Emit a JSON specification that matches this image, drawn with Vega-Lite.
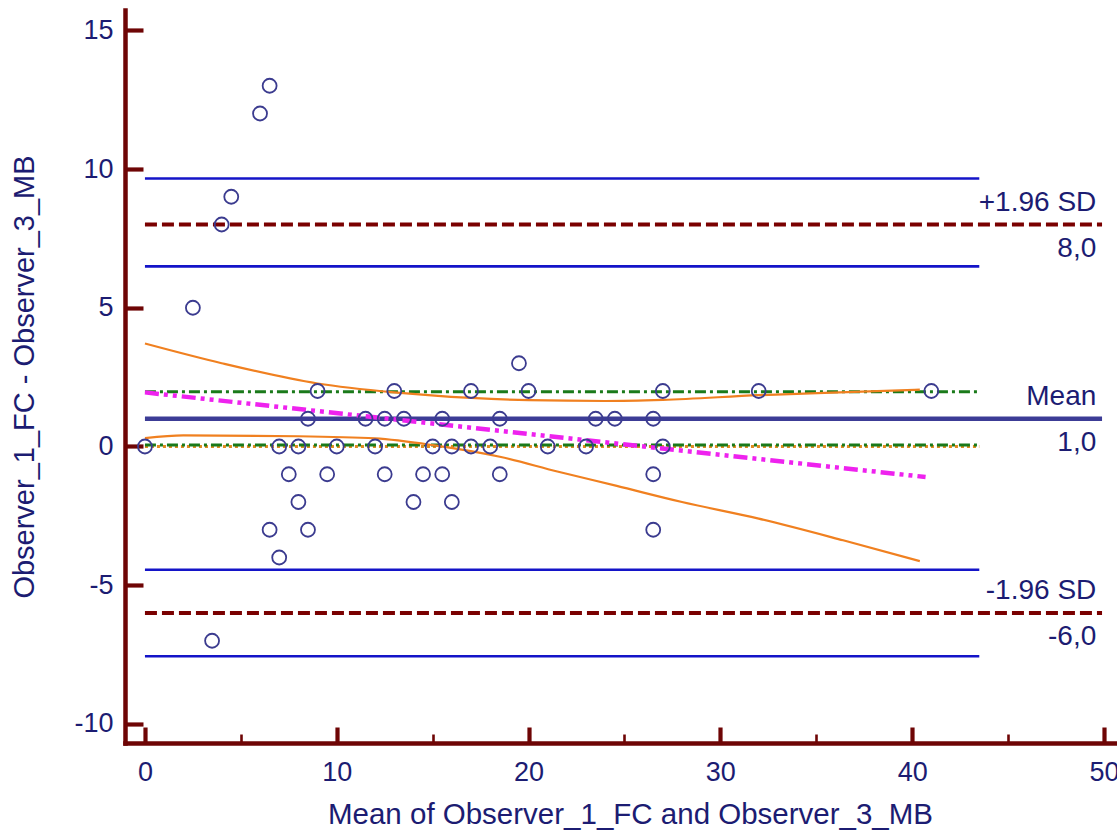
{
  "$schema": "https://vega.github.io/schema/vega-lite/v6.json",
  "width": 992,
  "height": 733,
  "autosize": {"type": "none"},
  "padding": {"left": 125, "top": 10, "right": 0, "bottom": 88},
  "background": "white",
  "config": {
    "view": {"stroke": null},
    "font": "Liberation Sans"
  },
  "datasets": {
    "points": [
      {"mean": 0, "diff": 0}, {"mean": 2.5, "diff": 5}, {"mean": 3.5, "diff": -7},
      {"mean": 4, "diff": 8}, {"mean": 4.5, "diff": 9}, {"mean": 6, "diff": 12},
      {"mean": 6.5, "diff": 13}, {"mean": 6.5, "diff": -3}, {"mean": 7, "diff": 0},
      {"mean": 7, "diff": -4}, {"mean": 7.5, "diff": -1}, {"mean": 8, "diff": 0},
      {"mean": 8, "diff": -2}, {"mean": 8.5, "diff": 1}, {"mean": 8.5, "diff": -3},
      {"mean": 9, "diff": 2}, {"mean": 9.5, "diff": -1}, {"mean": 10, "diff": 0},
      {"mean": 11.5, "diff": 1}, {"mean": 12, "diff": 0}, {"mean": 12.5, "diff": 1},
      {"mean": 12.5, "diff": -1}, {"mean": 13, "diff": 2}, {"mean": 13.5, "diff": 1},
      {"mean": 14, "diff": -2}, {"mean": 14.5, "diff": -1}, {"mean": 15, "diff": 0},
      {"mean": 15.5, "diff": 1}, {"mean": 15.5, "diff": -1}, {"mean": 16, "diff": 0},
      {"mean": 16, "diff": -2}, {"mean": 17, "diff": 2}, {"mean": 17, "diff": 0},
      {"mean": 18, "diff": 0}, {"mean": 18.5, "diff": 1}, {"mean": 18.5, "diff": -1},
      {"mean": 19.5, "diff": 3}, {"mean": 20, "diff": 2}, {"mean": 21, "diff": 0},
      {"mean": 23, "diff": 0}, {"mean": 23.5, "diff": 1}, {"mean": 24.5, "diff": 1},
      {"mean": 26.5, "diff": 1}, {"mean": 26.5, "diff": -1}, {"mean": 26.5, "diff": -3},
      {"mean": 27, "diff": 2}, {"mean": 27, "diff": 0}, {"mean": 32, "diff": 2},
      {"mean": 41, "diff": 2}
    ],
    "hlines": [
      {"kind": "ci_loa", "x1": 0, "x2": 43.5, "y": 9.66},
      {"kind": "ci_loa", "x1": 0, "x2": 43.5, "y": 6.49},
      {"kind": "ci_loa", "x1": 0, "x2": 43.5, "y": -4.44},
      {"kind": "ci_loa", "x1": 0, "x2": 43.5, "y": -7.56},
      {"kind": "loa", "x1": 0, "x2": 49.9, "y": 8.0},
      {"kind": "loa", "x1": 0, "x2": 49.9, "y": -6.0},
      {"kind": "mean", "x1": 0, "x2": 49.9, "y": 1.0},
      {"kind": "ci_mean", "x1": 0, "x2": 43.5, "y": 1.97},
      {"kind": "ci_mean", "x1": 0, "x2": 43.5, "y": 0.05},
      {"kind": "zero", "x1": 0, "x2": 43.5, "y": 0}
    ],
    "regression": [
      {"x": 0, "y": 1.95},
      {"x": 40.7, "y": -1.1}
    ],
    "bands": [
      {"band": "upper", "x": 0, "y": 3.71},
      {"band": "upper", "x": 4, "y": 3.0},
      {"band": "upper", "x": 9, "y": 2.27},
      {"band": "upper", "x": 13, "y": 1.95},
      {"band": "upper", "x": 17, "y": 1.75},
      {"band": "upper", "x": 20, "y": 1.67},
      {"band": "upper", "x": 24, "y": 1.64},
      {"band": "upper", "x": 27, "y": 1.68},
      {"band": "upper", "x": 32, "y": 1.85},
      {"band": "upper", "x": 37, "y": 1.97},
      {"band": "upper", "x": 40.4, "y": 2.05},
      {"band": "lower", "x": 0, "y": 0.3},
      {"band": "lower", "x": 2, "y": 0.4},
      {"band": "lower", "x": 8, "y": 0.37},
      {"band": "lower", "x": 12, "y": 0.29},
      {"band": "lower", "x": 15, "y": 0.05},
      {"band": "lower", "x": 18.5, "y": -0.37},
      {"band": "lower", "x": 21.5, "y": -0.9},
      {"band": "lower", "x": 24.6, "y": -1.42},
      {"band": "lower", "x": 28, "y": -2.0},
      {"band": "lower", "x": 32, "y": -2.6},
      {"band": "lower", "x": 36.4, "y": -3.38},
      {"band": "lower", "x": 40.4, "y": -4.13}
    ],
    "labels": [
      {"text": "+1.96 SD", "y": 8.0, "pos": "above"},
      {"text": "8,0", "y": 8.0, "pos": "below"},
      {"text": "Mean", "y": 1.0, "pos": "above"},
      {"text": "1,0", "y": 1.0, "pos": "below"},
      {"text": "-1.96 SD", "y": -6.0, "pos": "above"},
      {"text": "-6,0", "y": -6.0, "pos": "below"}
    ]
  },
  "layer": [
    {
      "data": {"name": "hlines"},
      "transform": [{"filter": "datum.kind === 'ci_loa'"}],
      "mark": {"type": "rule", "color": "#1414c8", "strokeWidth": 2.6},
      "encoding": {
        "x": {"field": "x1", "type": "quantitative", "scale": {"domain": [-1.04, 50.68], "nice": false, "zero": false},
          "axis": {
            "values": [0, 5, 10, 15, 20, 25, 30, 35, 40, 45, 50],
            "labelExpr": "datum.value % 10 === 0 ? toString(datum.value) : ''",
            "tickSize": {"condition": {"test": "datum.value % 10 === 0", "value": -16}, "value": -9},
            "tickWidth": {"condition": {"test": "datum.value % 10 === 0", "value": 4.2}, "value": 2.6},
            "tickColor": "#6e0505",
            "domainColor": "#6e0505",
            "domainWidth": 4.5,
            "domainCap": "square",
            "grid": false,
            "labelFont": "Liberation Sans",
            "labelFontSize": 27,
            "labelColor": "#1c1c72",
            "labelPadding": 32,
            "labelFlush": false,
            "labelOverlap": false,
            "title": "Mean of Observer_1_FC and Observer_3_MB",
            "titleFont": "Liberation Sans",
            "titleFontSize": 29.5,
            "titleFontWeight": "normal",
            "titleColor": "#1c1c72",
            "titleX": 505,
            "titleY": 80,
            "titleBaseline": "alphabetic",
            "titleAnchor": "middle",
            "titleAlign": "center"
          }},
        "x2": {"field": "x2"},
        "y": {"field": "y", "type": "quantitative", "scale": {"domain": [-10.685, 15.73], "nice": false, "zero": false},
          "axis": {
            "values": [-10, -5, 0, 5, 10, 15],
            "labelExpr": "toString(datum.value)",
            "tickSize": -18,
            "tickWidth": 4.2,
            "tickColor": "#6e0505",
            "domainColor": "#6e0505",
            "domainWidth": 4.5,
            "domainCap": "square",
            "grid": false,
            "labelFont": "Liberation Sans",
            "labelFontSize": 27,
            "labelColor": "#1c1c72",
            "labelPadding": 30,
            "labelFlush": false,
            "labelOverlap": false,
            "title": "Observer_1_FC - Observer_3_MB",
            "titleFont": "Liberation Sans",
            "titleFontSize": 29,
            "titleFontWeight": "normal",
            "titleColor": "#1c1c72",
            "titleX": -92,
            "titleBaseline": "alphabetic",
            "titleAnchor": "middle"
          }}
      }
    },
    {
      "data": {"name": "hlines"},
      "transform": [{"filter": "datum.kind === 'loa'"}],
      "mark": {"type": "rule", "color": "#7a0000", "strokeWidth": 4.2, "strokeDash": [12, 5]},
      "encoding": {
        "x": {"field": "x1", "type": "quantitative"},
        "x2": {"field": "x2"},
        "y": {"field": "y", "type": "quantitative"}
      }
    },
    {
      "data": {"name": "hlines"},
      "transform": [{"filter": "datum.kind === 'zero'"}],
      "mark": {"type": "rule", "color": "#e08a1e", "strokeWidth": 3.2, "strokeDash": [3, 3]},
      "encoding": {
        "x": {"field": "x1", "type": "quantitative"},
        "x2": {"field": "x2"},
        "y": {"field": "y", "type": "quantitative"}
      }
    },
    {
      "data": {"name": "hlines"},
      "transform": [{"filter": "datum.kind === 'ci_mean'"}],
      "mark": {"type": "rule", "color": "#1a7a1a", "strokeWidth": 3, "strokeDash": [11, 4, 3, 4]},
      "encoding": {
        "x": {"field": "x1", "type": "quantitative"},
        "x2": {"field": "x2"},
        "y": {"field": "y", "type": "quantitative"}
      }
    },
    {
      "data": {"name": "hlines"},
      "transform": [{"filter": "datum.kind === 'mean'"}],
      "mark": {"type": "rule", "color": "#3c3c96", "strokeWidth": 4.3},
      "encoding": {
        "x": {"field": "x1", "type": "quantitative"},
        "x2": {"field": "x2"},
        "y": {"field": "y", "type": "quantitative"}
      }
    },
    {
      "data": {"name": "bands"},
      "mark": {"type": "line", "color": "#f08020", "strokeWidth": 2.2, "interpolate": "monotone"},
      "encoding": {
        "x": {"field": "x", "type": "quantitative"},
        "y": {"field": "y", "type": "quantitative"},
        "detail": {"field": "band"}
      }
    },
    {
      "data": {"name": "regression"},
      "mark": {"type": "line", "color": "#ee22ee", "strokeWidth": 4.5, "strokeDash": [14, 5, 4, 5, 4, 5]},
      "encoding": {
        "x": {"field": "x", "type": "quantitative"},
        "y": {"field": "y", "type": "quantitative"}
      }
    },
    {
      "data": {"name": "points"},
      "mark": {"type": "point", "shape": "circle", "filled": false, "color": "#3b3b8f", "strokeWidth": 1.8, "size": 195, "opacity": 1},
      "encoding": {
        "x": {"field": "mean", "type": "quantitative"},
        "y": {"field": "diff", "type": "quantitative"}
      }
    },
    {
      "data": {"name": "labels"},
      "transform": [{"filter": "datum.pos === 'above'"}],
      "mark": {"type": "text", "align": "right", "baseline": "middle", "dy": -22, "font": "Liberation Sans", "fontSize": 28, "color": "#1c1c72"},
      "encoding": {
        "x": {"datum": 49.6, "type": "quantitative"},
        "y": {"field": "y", "type": "quantitative"},
        "text": {"field": "text"}
      }
    },
    {
      "data": {"name": "labels"},
      "transform": [{"filter": "datum.pos === 'below'"}],
      "mark": {"type": "text", "align": "right", "baseline": "middle", "dy": 24, "font": "Liberation Sans", "fontSize": 28, "color": "#1c1c72"},
      "encoding": {
        "x": {"datum": 49.6, "type": "quantitative"},
        "y": {"field": "y", "type": "quantitative"},
        "text": {"field": "text"}
      }
    },
    {
      "mark": {"type": "rule", "color": "#6e0505", "strokeWidth": 4.5, "strokeCap": "square"},
      "encoding": {
        "y": {"datum": 15.73, "type": "quantitative"}
      }
    }
  ]
}
